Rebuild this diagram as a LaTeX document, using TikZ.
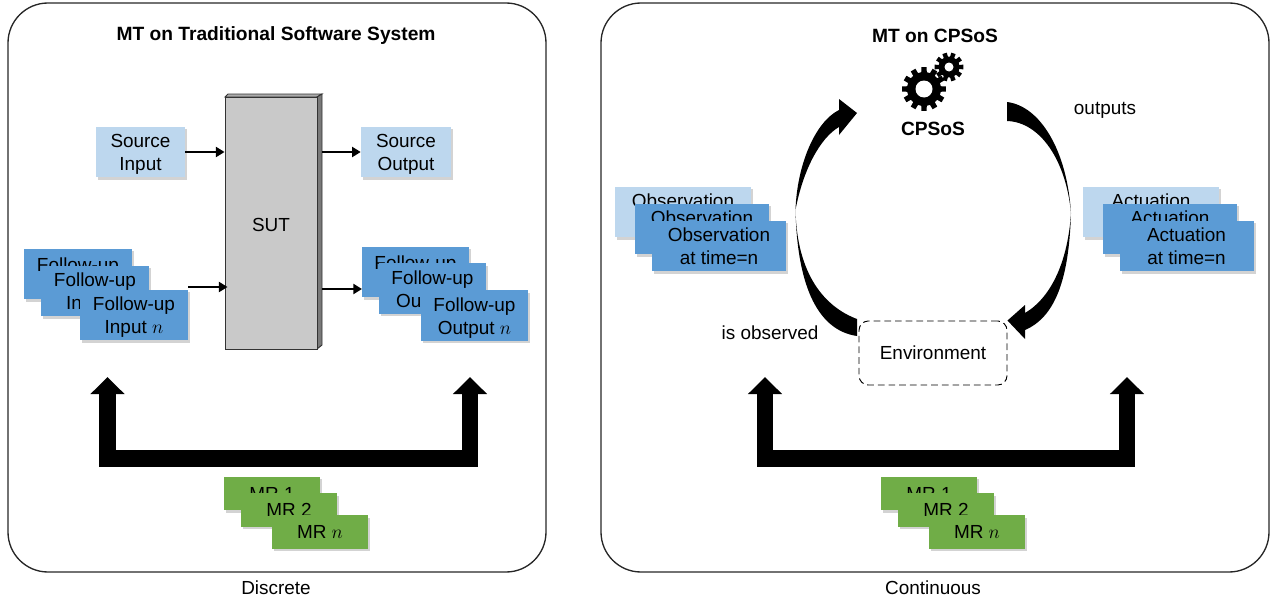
\documentclass[tikz,border=0pt]{standalone}
\usepackage{fontspec}
\setmainfont{Liberation Sans}
\usetikzlibrary{arrows.meta,shadows}
\definecolor{srcblue}{HTML}{BDD7EE}
\definecolor{fupblue}{HTML}{5B9BD5}
\definecolor{mrgreen}{HTML}{70AD47}
\definecolor{sutgrey}{HTML}{C9C9C9}
\newcommand{\firstline}{\rule{0pt}{13.6pt}}

\begin{document}
\begin{tikzpicture}[x=0.75pt, y=-0.75pt, line join=miter,
    every node/.style={font=\fontsize{14.2}{17.25}\selectfont, inner sep=0pt, align=center},
    panel/.style={draw=black!85, line width=1pt, rounded corners=30pt, minimum height=426.75pt},
    heading/.style={font=\fontsize{14.4}{16}\selectfont\bfseries},
    databox/.style={drop shadow={shadow xshift=1.5pt, shadow yshift=-1.8pt, opacity=0.35}, minimum height=37.9pt},
    srcbox/.style={databox, fill=srcblue},
    fupbox/.style={databox, fill=fupblue},
    mrbox/.style={databox, fill=mrgreen, minimum width=72pt, minimum height=25pt},
    thinarrow/.style={line width=1.7pt, -{Triangle[length=6.5pt, width=7.5pt]}},
    fatarrow/.style={line width=12.4pt, {Triangle[length=12.75pt, width=24.75pt]}-{Triangle[length=12.75pt, width=24.75pt]}},
    bigcurve/.style={fill=black},
    envbox/.style={draw, dash pattern=on 5pt off 3pt, line width=0.7pt, rounded corners=7pt, minimum width=111pt, minimum height=48pt}]
  \useasboundingbox (0,0) rectangle (1279,603);

  \node (leftpanel) [panel, minimum width=403.5pt] at (277,287.5) {};
  \node (rightpanel) [panel, minimum width=501pt] at (935,287.5) {};
  \node (lefttitle) [heading] at (276,36) {MT on Traditional Software System};
  \node (righttitle) [heading] at (935,36) {MT on CPSoS};
  \node (discrete) at (276,588) {Discrete};
  \node (continuous) at (933,588) {Continuous};

  \node (srcin) [srcbox, minimum width=66.75pt] at (140.5,152) {\firstline Source\\Input};
  \node (srcout) [srcbox, minimum width=67.5pt] at (406,152) {\firstline Source\\Output};

  \node (fin1) [fupbox, minimum width=81pt] at (78,274) {\firstline Follow-up\\~};
  \node (fin2) [fupbox, minimum width=81pt] at (95,291) {\firstline Follow-up\\Input 2};
  \node (fin3) [fupbox, minimum width=81pt] at (134,315) {\firstline Follow-up\\Input $n$};
  \node (fout1) [fupbox, minimum width=80.25pt] at (415.5,272) {\firstline Follow-up\\~};
  \node (fout2) [fupbox, minimum width=80.25pt] at (432.5,288.5) {\firstline Follow-up\\Output 2};
  \node (fout3) [fupbox, minimum width=80.25pt] at (474.5,315.5) {\firstline Follow-up\\Output $n$};

  \fill[sutgrey!85!black, draw=black!80, line width=0.7pt] (225,97) -- (228,94) -- (322,94) -- (317,97) -- cycle;
  \fill[sutgrey!60!black, draw=black!80, line width=0.7pt] (317,97) -- (322,94) -- (322,345) -- (317,349) -- cycle;
  \node (sut) [fill=sutgrey, draw=black!80, line width=0.7pt, minimum width=69pt, minimum height=189pt] at (271,223) {\firstline SUT};
  \coordinate (sutside) at (322,223);
  \coordinate (finout) at (188,287);
  \coordinate (foutin) at (362,289);

  \draw[thinarrow] (srcin.east) -- (srcin.east -| sut.west);
  \draw[thinarrow] (finout) -- ([xshift=2.25pt]finout -| sut.west);
  \draw[thinarrow] (srcout.west -| sutside) -- (srcout.west);
  \draw[thinarrow] (foutin -| sutside) -- (foutin);

  \coordinate (leftul) at (107.5,377);
  \coordinate (leftur) at (470,377);
  \coordinate (leftub) at (288,458.5);
  \draw[fatarrow] (leftul) |- (leftub) -| (leftur);

  \node (lmr1) [mrbox] at (272,493.5) {MR 1};
  \node (lmr2) [mrbox] at (289,510) {MR 2};
  \node (lmrn) [mrbox] at (320,532) {MR $n$};

  \foreach \gx/\gy/\gr/\gt/\gh/\gn/\gw in {924/89/17/5/8.5/12/10, 949/67/10.5/4/4.5/10/13} {
    \fill (\gx,\gy) circle (\gr);
    \foreach \k in {1,...,\gn} {
      \pgfmathsetmacro\ga{\k*360/\gn}
      \fill[shift={(\gx,\gy)}] (\ga-\gw:\gr-1) -- (\ga-\gw*0.7:\gr+\gt) -- (\ga+\gw*0.7:\gr+\gt) -- (\ga+\gw:\gr-1) -- cycle;
    }
    \fill[white] (\gx,\gy) circle (\gh);
  }
  \node (cpsos) [heading] at (933,129) {CPSoS};
  \node (env) [envbox] at (933,353) {Environment};
  \node (outlabel) at (1105,110) {outputs};
  \node (obslabel) at (770,333) {is observed};

  \coordinate (obsstart) at (857,319);
  \coordinate (obstip) at (857,113);
  \coordinate (outstart) at (1007,102);
  \coordinate (outtip) at (env.north east);

  \fill[bigcurve] (obsstart) .. controls (825,307) and (797,275) .. (795.5,210)
    .. controls (797,165) and (815,122) .. (839,110) -- (839,99) -- (obstip) -- (839,135) -- (839,127)
    .. controls (820,138) and (803,170) .. (795.5,210) .. controls (797,280) and (815,330) .. (857,336) -- cycle;
  \fill[bigcurve] (outstart) .. controls (1040,106) and (1067,150) .. (1071,213)
    .. controls (1069,280) and (1055,317) .. (1025,330) -- (1025,339) -- (outtip) -- (1025,305) -- (1025,313)
    .. controls (1052,297) and (1068,260) .. (1071,213) .. controls (1066,160) and (1040,122) .. (1007,121) -- cycle;

  \node (obs1) [srcbox, minimum width=102pt] at (683,212) {Observation\\~};
  \node (obs2) [fupbox, minimum width=100.5pt] at (702,229) {Observation\\~};
  \node (obs3) [fupbox, minimum width=100.5pt] at (719,246) {Observation\\at time=n};
  \node (act1) [srcbox, minimum width=102pt] at (1151,212) {Actuation\\~};
  \node (act2) [fupbox, minimum width=100.5pt] at (1170,229) {Actuation\\~};
  \node (act3) [fupbox, minimum width=100.5pt] at (1186.5,246) {Actuation\\at time=n};

  \coordinate (rightul) at (765,377);
  \coordinate (rightur) at (1127,377);
  \coordinate (rightub) at (946,458.5);
  \draw[fatarrow] (rightul) |- (rightub) -| (rightur);

  \node (rmr1) [mrbox] at (929,493.5) {MR 1};
  \node (rmr2) [mrbox] at (946,510) {MR 2};
  \node (rmrn) [mrbox] at (977,532) {MR $n$};
\end{tikzpicture}
\end{document}
